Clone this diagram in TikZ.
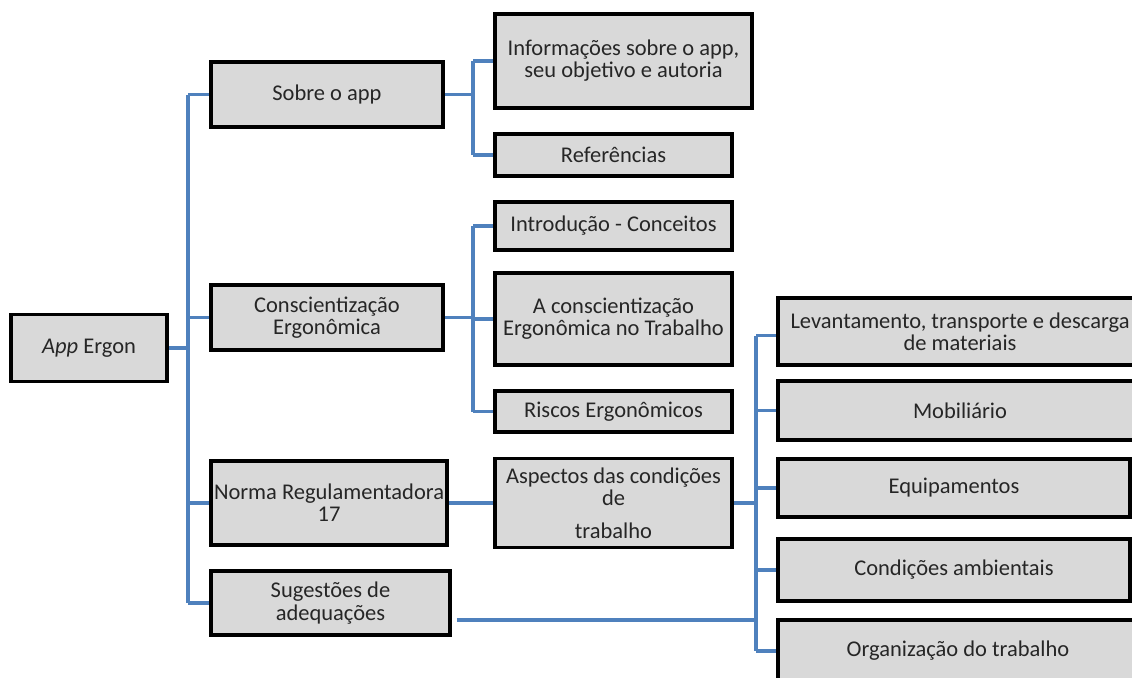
\documentclass[tikz,border=0pt]{standalone}
\usepackage{fontspec}
\setmainfont{Carlito}
\usepackage{tikz}
\usetikzlibrary{positioning,calc}
\definecolor{boxgray}{HTML}{D9D9D9}
\definecolor{linkblue}{HTML}{4F81BD}
\begin{document}
\begin{tikzpicture}[
  x=0.02cm, y=-0.02cm,
  box/.style={rectangle, draw=black, line width=2.1pt, fill=boxgray,
              inner sep=1pt, align=center, text=black!85,
              font=\fontsize{12.8}{12.6}\selectfont},
  lnk/.style={draw=linkblue, line width=2.1pt}]
  \useasboundingbox (0,0) rectangle (1132,677);
  \clip (0,0) rectangle (1132,677);
  \node[box, minimum width=156*0.02cm, minimum height=67*0.02cm] (AE) at (89,348) {\textit{App} Ergon};
  \node[box, minimum width=232*0.02cm, minimum height=65*0.02cm] (SA) at (327,94.5) {Sobre o app};
  \node[box, minimum width=232*0.02cm, minimum height=65*0.02cm] (CE) at (327,317.5) {Conscientização\\Ergonômica};
  \node[box, minimum width=236*0.02cm, minimum height=84*0.02cm] (NR) at (329,503) {Norma Regulamentadora\\17};
  \node[box, minimum width=239*0.02cm, minimum height=64*0.02cm] (SG) at (330.5,603) {Sugestões de\\adequações};
  \node[box, minimum width=257*0.02cm, minimum height=94*0.02cm] (IS) at (623.5,61) {Informações sobre o app,\\seu objetivo e autoria};
  \node[box, minimum width=237*0.02cm, minimum height=42*0.02cm] (RF) at (613.5,155) {Referências};
  \node[box, minimum width=237*0.02cm, minimum height=48*0.02cm] (IC) at (613.5,226) {Introdução - Conceitos};
  \node[box, minimum width=237*0.02cm, minimum height=92*0.02cm] (AC) at (613.5,319) {A conscientização\\Ergonômica no Trabalho};
  \node[box, minimum width=237*0.02cm, minimum height=41*0.02cm] (RE) at (613.5,411.5) {Riscos Ergonômicos};
  \node[box, minimum width=237*0.02cm, minimum height=89*0.02cm] (AS) at (613.5,503) {Aspectos das condições\\de\\[6pt]trabalho};
  \node[box, minimum width=364*0.02cm, minimum height=67*0.02cm] (LT) at (960,331.5) {Levantamento, transporte e descarga\\de materiais};
  \node[box, minimum width=364*0.02cm, minimum height=59*0.02cm] (MB) at (960,410.5) {Mobiliário};
  \node[box, minimum width=352*0.02cm, minimum height=58*0.02cm] (EQ) at (954,488) {Equipamentos};
  \node[box, minimum width=352*0.02cm, minimum height=62*0.02cm] (CA) at (954,570) {Condições ambientais};
  \node[box, minimum width=360*0.02cm, minimum height=62*0.02cm] (OT) at (958,651) {Organização do trabalho};
  \coordinate (T0) at (188,348);
  \coordinate (T1) at (473,94.5);
  \coordinate (T2) at (473,317.5);
  \coordinate (T3) at (756,503);
  \coordinate (SGo) at ([shift={(5,17)}]SG.east);
  \draw[lnk] (AE.east) -- (T0);
  \draw[lnk] (T0 |- SA.west) -- (T0 |- SG.west);
  \draw[lnk] (T0 |- SA.west) -- (SA.west);
  \draw[lnk] (T0 |- CE.west) -- (CE.west);
  \draw[lnk] (T0 |- NR.west) -- (NR.west);
  \draw[lnk] (T0 |- SG.west) -- (SG.west);
  \draw[lnk] (SA.east) -- (T1);
  \draw[lnk] (T1 |- IS.west) -- (T1 |- RF.west);
  \draw[lnk] (T1 |- IS.west) -- (IS.west);
  \draw[lnk] (T1 |- RF.west) -- (RF.west);
  \draw[lnk] (CE.east) -- (T2);
  \draw[lnk] (T2 |- IC.west) -- (T2 |- RE.west);
  \draw[lnk] (T2 |- IC.west) -- (IC.west);
  \draw[lnk] (T2 |- AC.west) -- (AC.west);
  \draw[lnk] (T2 |- RE.west) -- (RE.west);
  \draw[lnk] (NR.east) -- (AS.west);
  \draw[lnk] (AS.east) -- (T3);
  \draw[lnk] ([yshift=-4*0.02cm]T3 |- LT.west) -- (T3 |- OT.west);
  \draw[lnk] ([yshift=-4*0.02cm]T3 |- LT.west) -- ([yshift=-4*0.02cm]LT.west);
  \draw[lnk] (T3 |- MB.west) -- (MB.west);
  \draw[lnk] (T3 |- EQ.west) -- (EQ.west);
  \draw[lnk] (T3 |- CA.west) -- (CA.west);
  \draw[lnk] (T3 |- OT.west) -- (OT.west);
  \draw[lnk] (SGo) -- (T3 |- SGo);
\end{tikzpicture}
\end{document}
